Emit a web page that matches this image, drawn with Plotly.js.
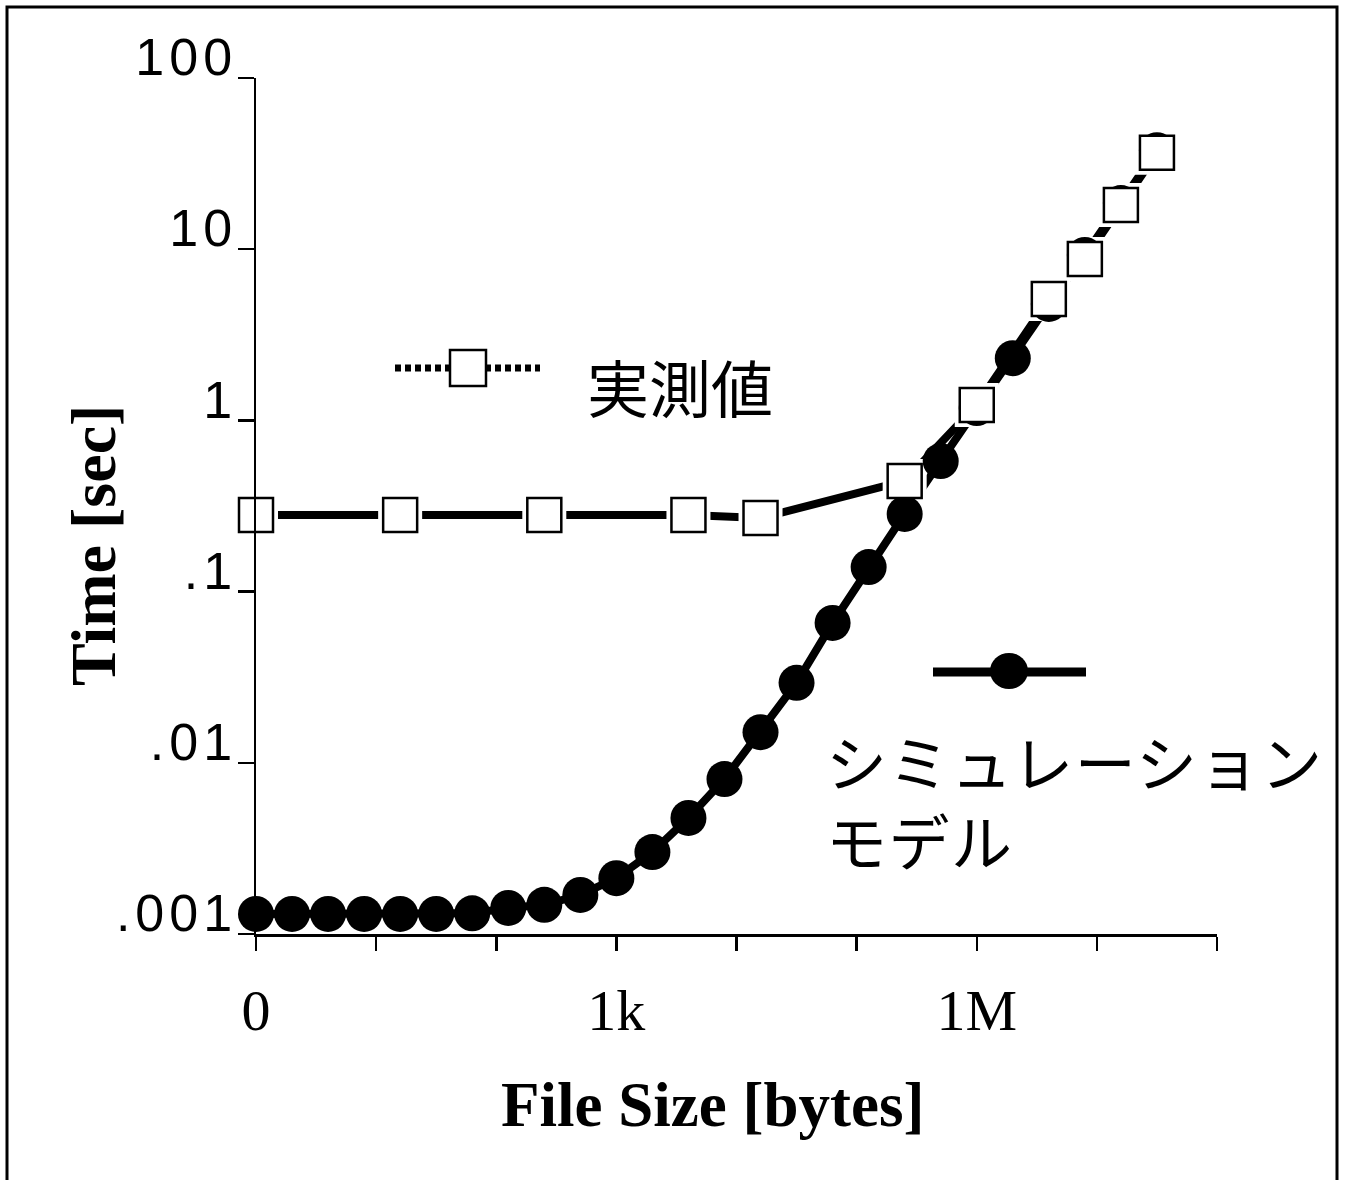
<!DOCTYPE html>
<html>
<head>
<meta charset="utf-8">
<script src="https://cdn.plot.ly/plotly-3.0.1.min.js"></script>
<style>
  html, body { margin:0; padding:0; background:#fff; }
  #chart .ytick text { letter-spacing: 5px; }
  #chart .annotation[data-index="1"] text { letter-spacing: 1.5px; }
</style>
</head>
<body>
<div id="chart" style="width:1345px;height:1180px;"></div>
<script>
// File sizes in bytes (2^0 ... 2^25)
const simSizes = [1, 2, 4, 8, 16, 32, 64, 128, 256, 512, 1024, 2048, 4096, 8192, 16384,
  32768, 65536, 131072, 262144, 524288, 1048576, 2097152, 4194304, 8388608, 16777216, 33554432];
// Simulation model time [sec]
const simTimes = [0.00131, 0.00131, 0.00131, 0.00131, 0.00131, 0.00131, 0.00132, 0.00142, 0.00148,
  0.00169, 0.00212, 0.00301, 0.00476, 0.00804, 0.0151, 0.0293, 0.0656, 0.139, 0.284, 0.579,
  1.18, 2.31, 4.79, 9.25, 18.6, 37.9];
// Measured sizes and times
const measSizes = [1, 16, 256, 4096, 16384, 262144, 1048576, 4194304, 8388608, 16777216, 33554432];
const measTimes = [0.280, 0.280, 0.280, 0.280, 0.269, 0.443, 1.23, 5.12, 8.77, 18.1, 36.6];

// Axis ticks
const xTickVals = [1, 10.0794, 101.594, 1024, 10321.3, 104032, 1048576, 10569000, 106528000];
const xTickText = ['0', '', '', '1k', '', '', '1M', '', ''];
const yTickVals = [0.001, 0.01, 0.1, 1, 10, 100];
const yTickText = ['.001', '.01', '.1', '1', '10', '100'];

const labelMeas = '実測値';
const labelSim = 'シミュレーション<br>モデル';
const xTitle = 'File Size [bytes]';
const yTitle = 'Time [sec]';

const L = 256, R = 1217, T = 78, B = 934;
const px = v => (v - L) / (R - L);
const py = v => (B - v) / (B - T);

const traces = [
  { x: simSizes, y: simTimes, mode: 'lines', line: { color: 'black', width: 8 }, hoverinfo: 'skip' },
  { x: measSizes, y: measTimes, mode: 'lines', line: { color: 'black', width: 8 }, hoverinfo: 'skip' },
  { x: measSizes, y: measTimes, mode: 'markers', cliponaxis: false,
    marker: { symbol: 'square', size: 44, color: 'white', line: { width: 0 } }, hoverinfo: 'skip' },
  { x: simSizes, y: simTimes, mode: 'markers', cliponaxis: false, name: 'シミュレーションモデル',
    marker: { symbol: 'circle', size: 36, color: 'black', line: { width: 0 } } },
  { x: measSizes, y: measTimes, mode: 'markers', cliponaxis: false, name: labelMeas,
    marker: { symbol: 'square', size: 34, color: 'white', line: { color: 'black', width: 2.5 } } }
];

const layout = {
  width: 1345, height: 1180,
  margin: { l: L, r: 1345 - R, t: T, b: 1180 - B, pad: 0 },
  paper_bgcolor: 'white', plot_bgcolor: 'white',
  showlegend: false,
  xaxis: {
    type: 'log', range: [0, 80 / 3 * Math.log10(2)],
    tickmode: 'array', tickvals: xTickVals, ticktext: xTickText,
    ticks: 'outside', ticklen: 14, tickwidth: 2.5, tickcolor: 'black',
    showline: true, linecolor: 'black', linewidth: 2.5,
    showgrid: false, zeroline: false,
    tickfont: { family: 'Liberation Serif', size: 58, color: 'black' },
    ticklabelstandoff: 10
  },
  yaxis: {
    type: 'log', range: [-3, 2],
    tickmode: 'array', tickvals: yTickVals, ticktext: yTickText,
    ticks: 'outside', ticklen: 16, tickwidth: 2.5, tickcolor: 'black',
    showline: true, linecolor: 'black', linewidth: 2.5,
    showgrid: false, zeroline: false,
    tickfont: { family: 'Liberation Sans', size: 52, color: 'black' },
    ticklabelshift: -21, ticklabelstandoff: -10
  },
  shapes: [
    // outer frame
    { type: 'rect', xref: 'paper', yref: 'paper', x0: px(7), x1: px(1337), y0: py(1200), y1: py(7),
      line: { color: 'black', width: 3 }, fillcolor: 'rgba(0,0,0,0)', layer: 'below' },
    // legend: measured
    { type: 'line', xref: 'paper', yref: 'paper', x0: px(395), x1: px(540), y0: py(368), y1: py(368),
      line: { color: 'black', width: 7, dash: '6px,4px' } },
    { type: 'rect', xref: 'paper', yref: 'paper', x0: px(450), x1: px(486), y0: py(386), y1: py(350),
      line: { color: 'black', width: 2.5 }, fillcolor: 'white' },
    // legend: simulation
    { type: 'line', xref: 'paper', yref: 'paper', x0: px(933), x1: px(1086), y0: py(672), y1: py(672),
      line: { color: 'black', width: 9 } },
    { type: 'circle', xref: 'paper', yref: 'paper', x0: px(990), x1: px(1028), y0: py(689), y1: py(653),
      line: { width: 0 }, fillcolor: 'black' }
  ],
  annotations: [
    { text: labelMeas, xref: 'paper', yref: 'paper', x: px(585), y: py(386), xanchor: 'left', yanchor: 'middle',
      showarrow: false, font: { family: 'Noto Sans CJK JP', size: 62, color: 'black' } },
    { text: labelSim, xref: 'paper', yref: 'paper', x: px(824), y: py(800), xanchor: 'left', yanchor: 'middle',
      align: 'left', showarrow: false, font: { family: 'Noto Sans CJK JP', size: 61, color: 'black' } },
    { text: '<b>' + xTitle + '</b>', xref: 'paper', yref: 'paper', x: px(712), y: py(1105), xanchor: 'center', yanchor: 'middle',
      showarrow: false, font: { family: 'Liberation Serif', size: 63, color: 'black' } },
    { text: '<b>' + yTitle + '</b>', xref: 'paper', yref: 'paper', x: px(93), y: py(546), xanchor: 'center', yanchor: 'middle',
      textangle: -90, showarrow: false, font: { family: 'Liberation Serif', size: 64, color: 'black' } }
  ]
};

Plotly.newPlot('chart', traces, layout, { staticPlot: true, displayModeBar: false });
</script>
</body>
</html>
